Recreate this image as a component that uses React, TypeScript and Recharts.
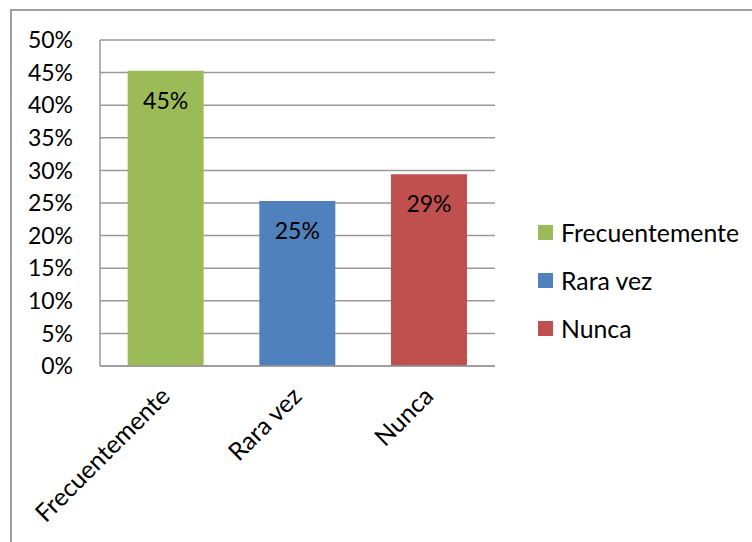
import React from 'react';
import { BarChart, Bar, XAxis, YAxis, CartesianGrid, Cell, LabelList } from 'recharts';

const categories = ['Frecuentemente', 'Rara vez', 'Nunca'];
const values = [45.3, 25.3, 29.4];
const colors = ['#9BBB59', '#4F81BD', '#C0504D'];
const yTicks = [0, 5, 10, 15, 20, 25, 30, 35, 40, 45, 50];

const data = categories.map((c, i) => ({ name: c, value: values[i] }));

const FONT = 'Lato, "Open Sans", sans-serif';
const FS = 23;
const FS_BIG = 24.8;

const XTick = (props: any) => {
  const { x, y, payload } = props;
  const ax = x - 1;
  const ay = y + 25;
  return (
    <text
      x={ax}
      y={ay}
      transform={`rotate(-45, ${ax}, ${ay})`}
      textAnchor="end"
      dominantBaseline="central"
      fontFamily={FONT}
      fontSize={FS_BIG}
      fill="#000"
    >
      {payload.value}
    </text>
  );
};

const renderLabel = (props: any) => {
  const { x, y, width, value } = props;
  return (
    <text
      x={x + width / 2}
      y={y + 29}
      textAnchor="middle"
      dominantBaseline="central"
      fontFamily={FONT}
      fontSize={FS}
      fill="#000"
    >
      {`${Math.round(value)}%`}
    </text>
  );
};

const Legend = () => (
  <div style={{ position: 'absolute', left: 538, top: 0 }}>
    {categories.map((c, i) => (
      <div
        key={c}
        style={{
          position: 'absolute',
          left: 0,
          top: 232 + i * 48 - 15,
          height: 30,
          display: 'flex',
          alignItems: 'center',
          whiteSpace: 'nowrap',
        }}
      >
        <div style={{ width: 15, height: 15, background: colors[i], marginRight: 8 }} />
        <span style={{ fontFamily: FONT, fontSize: FS_BIG, color: '#000' }}>{c}</span>
      </div>
    ))}
  </div>
);

export default function App() {
  return (
    <div style={{ position: 'fixed', left: 0, top: 0, width: 752, height: 542, background: '#fff', overflow: 'hidden' }}>
      <div
        style={{
          position: 'absolute',
          left: 10,
          top: 9,
          width: 800,
          height: 600,
          border: '2px solid #a0a0a0',
        }}
      />
      <div style={{ position: 'absolute', left: 0, top: 0 }}>
        <BarChart
          width={752}
          height={542}
          data={data}
          margin={{ top: 40, right: 257, left: 40, bottom: 0 }}
          barCategoryGap="21%"
        >
          <CartesianGrid vertical={false} stroke="#999" strokeWidth={1.5} />
          <XAxis
            dataKey="name"
            height={176}
            tickLine={false}
            tickSize={0}
            tickMargin={0}
            axisLine={{ stroke: '#999', strokeWidth: 1.5 }}
            tick={<XTick />}
            interval={0}
          />
          <YAxis
            width={60}
            domain={[0, 50]}
            ticks={yTicks}
            interval={0}
            tickLine={false}
            tickSize={0}
            tickMargin={27}
            axisLine={{ stroke: '#999', strokeWidth: 1.5 }}
            tickFormatter={(v: number) => `${v}%`}
            tick={{ fontFamily: FONT, fontSize: FS, fill: '#000' }}
          />
          <Bar dataKey="value" isAnimationActive={false}>
            {data.map((d, i) => (
              <Cell key={d.name} fill={colors[i]} />
            ))}
            <LabelList dataKey="value" content={renderLabel} />
          </Bar>
        </BarChart>
      </div>
      <Legend />
    </div>
  );
}
